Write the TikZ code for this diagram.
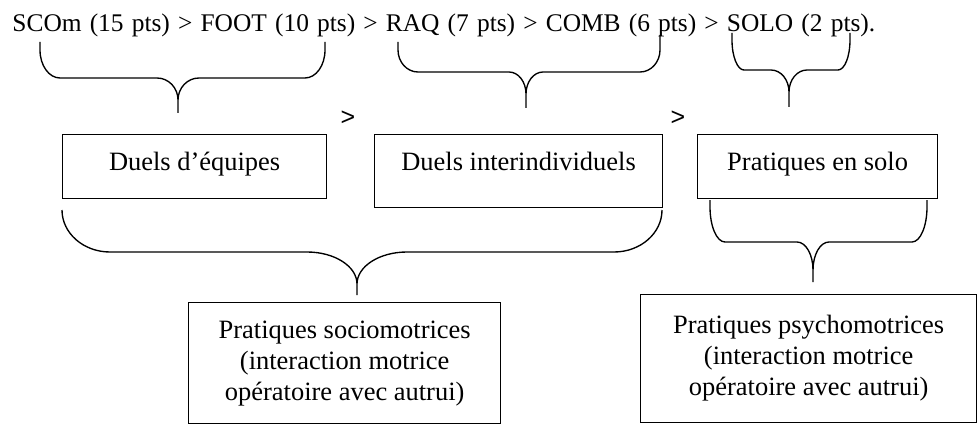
\documentclass[tikz,border=0pt,12pt]{standalone}
\usepackage{fontspec}
\setmainfont{Liberation Serif}
\newfontfamily\arialfont{Liberation Sans}
\newcommand{\boxfont}{\fontsize{12.7pt}{14.9pt}\selectfont}
\tikzset{
  box/.style={draw, line width=0.6pt, inner sep=0pt, anchor=north west, font=\boxfont,
    text height=17.3pt, text depth=13.4pt},
  bigbox/.style={draw, line width=0.6pt, inner sep=0pt, anchor=north west, font=\boxfont,
    align=center},
  brace/.style={line width=0.65pt},
}
\begin{document}
\begin{tikzpicture}[x=0.48pt,y=-0.48pt]
  \useasboundingbox (0,0) rectangle (978,428);
  % ranking line
  \node[anchor=base west, inner sep=0pt, font=\fontsize{12.2pt}{14.5pt}\selectfont] (ranking) at (12,32)
    {\makebox[414.2pt][s]{SCOm (15 pts) > FOOT (10 pts) > RAQ (7 pts) > COMB (6 pts) > SOLO (2 pts).}};
  \node[font=\arialfont, inner sep=0pt] (gtA) at (348,118) {>};
  \node[font=\arialfont, inner sep=0pt] (gtB) at (678,118) {>};
  % families
  \node[box, minimum width=126.7pt] (equipes) at (62,134) {Duels d’équipes};
  \node[box, minimum width=138.2pt, text depth=17.8pt] (inter) at (374,134) {Duels interindividuels};
  \node[box, minimum width=115.2pt] (solo) at (697,134) {Pratiques en solo};
  \node[bigbox, minimum width=149.8pt, minimum height=58.1pt] (socio) at (188,302)
    {Pratiques sociomotrices\\(interaction motrice\\opératoire avec autrui)};
  \node[bigbox, minimum width=161.3pt, minimum height=61.4pt] (psycho) at (640,294)
    {Pratiques psychomotrices\\(interaction motrice\\opératoire avec autrui)};
  % braces
  \foreach \xl/\yl/\xr/\yr/\ym/\xt/\yb/\rx/\ry/\cx/\cy in {
      40/42/325/42/78/178/113/20/28/21/22,
      398/42/660/35/72/526/108/20/22/17/22,
      732/33/850/33/70/789/107/12/30/18/22,
      62/210/662/210/252/357/295/48/42/50/32,
      710/200/927/200/242/813/282/15/35/16/28}{
    \draw[brace] (\xl,\yl) -- ({\xl},{\ym-\ry})
      .. controls ({\xl},{\ym-0.448*\ry}) and ({\xl+0.448*\rx},{\ym}) .. ({\xl+\rx},{\ym})
      -- ({\xt-\cx},{\ym})
      .. controls ({\xt-0.448*\cx},{\ym}) and ({\xt},{\ym+0.448*\cy}) .. ({\xt},{\ym+\cy})
      -- (\xt,\yb) -- ({\xt},{\ym+\cy})
      .. controls ({\xt},{\ym+0.448*\cy}) and ({\xt+0.448*\cx},{\ym}) .. ({\xt+\cx},{\ym})
      -- ({\xr-\rx},{\ym})
      .. controls ({\xr-0.448*\rx},{\ym}) and ({\xr},{\ym-0.448*\ry}) .. ({\xr},{\ym-\ry})
      -- (\xr,\yr);
  }
\end{tikzpicture}
\end{document}
